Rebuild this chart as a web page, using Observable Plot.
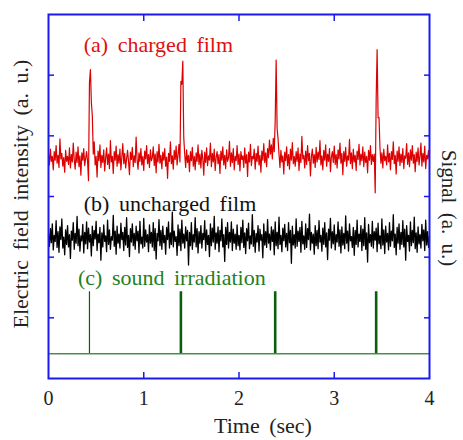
<!DOCTYPE html>
<html><head><meta charset="utf-8">
<script src="https://cdn.jsdelivr.net/npm/d3@7"></script>
<script src="https://cdn.jsdelivr.net/npm/@observablehq/plot@0.6"></script>
<style>
body{margin:0;background:#fff}
svg{display:block}
svg text{font-family:"Liberation Serif","Tinos","Times New Roman","DejaVu Serif",serif !important}
.lbl text, text.ttl{word-spacing:4px}
</style>
</head><body><div id="chart"></div>
<script>
// x ticks and y ticks (y ticks have no labels)
const xTicks = [0, 1, 2, 3, 4];
const xInnerTicks = [1, 2, 3];
const yTicks = [1, 2, 3, 4, 5];

// sampling step of the recorded traces (sec)
const step = 0.01;

// (a) charged film, 401 samples from 0 to 4 s
const charged = [
3.70,3.52,3.78,3.58,3.66,3.44,3.74,3.60,3.84,3.55,
3.68,3.48,3.95,3.62,3.71,3.50,3.64,3.40,3.76,3.58,
3.66,3.53,3.80,3.47,3.69,3.57,3.88,3.61,3.45,3.73,
3.56,3.82,3.49,3.67,3.35,3.72,3.60,3.79,3.51,3.63,
3.74,3.58,3.26,4.88,5.09,4.55,4.33,3.70,3.90,3.52,
3.66,3.32,3.75,3.59,3.85,3.48,3.68,3.56,3.77,3.42,
3.64,3.80,3.53,3.70,3.46,3.92,3.57,3.66,3.38,3.74,
3.60,3.83,3.50,3.69,3.55,3.78,3.44,3.65,3.87,3.54,
3.71,3.47,3.62,3.76,3.58,3.36,3.73,3.61,3.81,3.49,
3.67,3.56,3.98,3.60,3.45,3.72,3.58,3.79,3.52,3.66,
3.43,3.75,3.62,3.84,3.54,3.69,3.48,3.77,3.59,3.64,
3.82,3.51,3.70,3.39,3.74,3.57,3.86,3.55,3.68,3.46,
3.73,3.60,3.79,3.50,3.65,3.30,3.71,3.58,3.90,3.54,
3.67,3.45,3.76,3.61,3.83,3.52,3.69,3.86,3.57,4.90,
4.85,5.23,3.97,3.70,3.48,3.77,3.56,3.68,3.41,3.74,
3.59,3.81,3.50,3.66,3.44,3.72,3.58,3.85,3.53,3.70,
3.47,3.76,3.62,3.35,3.73,3.56,3.80,3.51,3.67,3.60,
3.88,3.49,3.71,3.57,3.78,3.43,3.65,3.74,3.54,3.69,
3.38,3.75,3.60,3.82,3.52,3.68,3.46,3.77,3.58,3.64,
3.91,3.50,3.72,3.56,3.79,3.44,3.66,3.59,3.84,3.53,
3.70,3.42,3.74,3.61,3.67,3.48,3.80,3.55,3.69,3.33,
3.73,3.57,3.86,3.51,3.66,3.62,3.78,3.45,3.71,3.58,
3.83,3.52,3.68,3.40,3.75,3.60,3.87,3.56,3.72,3.49,
3.79,3.64,3.93,3.70,3.85,3.62,3.96,3.74,4.25,5.25,
4.12,3.95,3.70,3.48,3.76,3.57,3.67,3.37,3.73,3.59,
3.82,3.51,3.69,3.45,3.78,3.60,3.89,3.54,3.66,3.50,
3.74,3.58,3.80,3.43,3.70,3.56,3.99,3.62,3.68,3.47,
3.75,3.53,3.84,3.59,3.71,3.34,3.66,3.78,3.55,3.69,
3.48,3.81,3.57,3.73,3.61,3.92,3.52,3.67,3.44,3.76,
3.60,3.85,3.50,3.70,3.58,3.79,3.41,3.65,3.74,3.56,
3.83,3.53,3.69,3.47,3.77,3.62,3.88,3.55,3.71,3.36,
3.74,3.58,3.81,3.50,3.67,3.60,3.94,3.54,3.72,3.46,
3.78,3.57,3.68,3.43,3.75,3.61,3.86,3.52,3.70,3.59,
3.82,3.49,3.73,3.56,3.66,3.39,3.76,3.60,3.84,3.53,
3.69,3.58,3.70,3.06,4.60,5.42,4.30,4.30,3.80,3.55,
3.72,3.47,3.78,3.59,3.66,3.52,3.85,3.57,3.71,3.44,
3.74,3.61,3.90,3.54,3.68,3.37,3.75,3.58,3.82,3.51,
3.70,3.56,3.79,3.46,3.67,3.63,3.87,3.53,3.72,3.49,
3.77,3.60,3.84,3.55,3.69,3.41,3.73,3.58,3.80,3.52,
3.66,3.88,3.50,3.71,3.57,3.83,3.46,3.68,3.62,3.76,
3.58];

// (b) uncharged film, 401 samples from 0 to 4 s
const uncharged = [
2.38,2.18,2.47,2.24,2.55,2.12,2.36,2.26,2.60,2.16,
2.42,2.08,2.50,2.29,2.63,2.15,2.33,2.04,2.45,2.21,
2.52,2.17,2.37,1.98,2.43,2.28,2.57,2.13,2.39,2.23,
2.67,2.19,2.46,2.10,2.35,2.27,2.54,2.07,2.41,2.22,
2.58,2.14,2.48,2.25,2.37,2.02,2.51,2.19,2.44,2.30,
2.59,2.11,2.38,2.24,2.49,1.95,2.40,2.17,2.53,2.26,
2.35,2.09,2.61,2.21,2.45,2.13,2.34,2.28,2.69,2.18,
2.43,2.05,2.51,2.23,2.38,2.15,2.56,2.29,2.41,2.11,
2.49,2.20,2.65,2.16,2.36,2.01,2.47,2.25,2.55,2.19,
2.39,2.13,2.51,2.27,2.43,2.07,2.59,2.22,2.33,2.15,
2.64,2.18,2.45,2.25,2.37,2.09,2.53,2.23,2.41,2.17,
2.57,2.11,2.47,1.97,2.39,2.27,2.62,2.19,2.44,2.13,
2.51,2.24,2.36,2.05,2.49,2.29,2.58,2.15,2.40,2.21,
2.74,2.17,2.43,2.26,2.34,2.03,2.53,2.19,2.46,2.11,
2.61,2.23,2.38,2.15,2.50,2.27,2.44,1.87,2.41,2.19,
2.57,2.13,2.37,2.25,2.65,2.17,2.47,2.07,2.42,2.23,
2.52,2.15,2.39,2.29,2.60,2.11,2.45,2.21,2.36,2.01,
2.55,2.19,2.48,2.25,2.67,2.13,2.40,2.23,2.50,2.09,
2.44,2.27,2.63,2.17,2.37,1.93,2.49,2.21,2.57,2.15,
2.41,2.25,2.58,2.11,2.46,2.23,2.38,2.13,2.53,2.19,
2.36,2.12,2.49,2.24,2.61,2.16,2.40,2.06,2.47,2.27,
2.56,2.14,2.35,2.22,2.70,2.18,2.44,2.08,2.39,2.25,
2.52,2.10,2.46,2.28,2.37,1.99,2.55,2.20,2.42,2.16,
2.62,2.23,2.38,2.12,2.50,2.26,2.45,2.04,2.58,2.19,
2.41,2.14,2.66,2.21,2.36,2.09,2.48,2.27,2.54,2.17,
2.39,2.11,2.57,2.24,2.44,1.90,2.51,2.20,2.37,2.15,
2.63,2.18,2.43,2.26,2.49,2.08,2.59,2.22,2.35,2.13,
2.55,2.16,2.47,2.29,2.71,2.12,2.41,2.23,2.38,2.05,
2.52,2.19,2.44,2.14,2.60,2.25,2.36,2.10,2.48,2.21,
2.57,2.17,2.40,1.96,2.46,2.28,2.64,2.15,2.42,2.22,
2.53,2.12,2.37,2.25,2.58,2.18,2.45,2.07,2.50,2.20,
2.39,2.14,2.68,2.23,2.43,2.10,2.55,2.27,2.34,2.16,
2.49,2.03,2.44,2.21,2.61,2.17,2.38,2.26,2.52,2.11,
2.46,2.19,2.65,2.13,2.40,1.92,2.54,2.24,2.37,2.18,
2.59,2.15,2.42,2.28,2.48,2.09,2.56,2.22,2.35,2.14,
2.63,2.20,2.45,2.06,2.51,2.25,2.39,2.12,2.57,2.18,
2.43,2.27,2.70,2.16,2.38,2.04,2.49,2.23,2.55,2.13,
2.41,2.21,2.60,2.17,2.46,1.95,2.52,2.26,2.36,2.10,
2.58,2.19,2.44,2.24,2.66,2.14,2.40,2.08,2.50,2.22,
2.37,2.15,2.54,2.27,2.45,2.11,2.61,2.20,2.42,2.16,
2.35];

// (c) sound irradiation: pulse times, baseline level and pulse top
const soundTimes = [0.43, 1.39, 2.38, 3.44];
const soundBase = 0.41;
const soundPeak = 1.43;

// curve labels
const labelTexts = ["(a) charged film", "(b) uncharged film", "(c) sound irradiation"];
const labelX = [0.37, 0.37, 0.31];
const labelY = [5.49, 2.88, 1.66];

const BLUE = "#1a1aee";
const RED = "#dd0000";
const GREEN_TXT = "#1f801f";
const GREEN = "#0b5e0b";
const GREEN_BASE = "#4a8f4a";
const labelColors = ["#e01010", "#111111", GREEN_TXT];

const redData = charged.map((v, i) => ({t: i * step, v}));
const blackData = uncharged.map((v, i) => ({t: i * step, v}));
const labels = labelTexts.map((s, i) => ({s, x: labelX[i], y: labelY[i], c: labelColors[i]}));

const FONT = '"Liberation Serif", "Tinos", "Times New Roman", "DejaVu Serif", serif';

const chart = Plot.plot({
  width: 463, height: 440,
  marginLeft: 48, marginRight: 34, marginTop: 14, marginBottom: 62,
  style: {fontFamily: FONT, background: "#fff", color: "#222"},
  x: {domain: [0, 4]},
  y: {domain: [0, 6]},
  marks: [
    Plot.ruleY([soundBase], {stroke: GREEN_BASE, strokeWidth: 1.5}),
    Plot.ruleX(soundTimes, {x: d => d, y1: soundBase, y2: soundPeak, stroke: GREEN, strokeWidth: (d, i) => i === 0 ? 1.2 : 2.6}),
    Plot.line(blackData, {x: "t", y: "v", stroke: "#000", strokeWidth: 1.3}),
    Plot.line(redData, {x: "t", y: "v", stroke: RED, strokeWidth: 1.2}),
    Plot.text(labels, {x: "x", y: "y", text: "s", fill: "c", textAnchor: "start", fontSize: 22, className: "lbl"}),
    Plot.frame({stroke: BLUE, strokeWidth: 2}),
    Plot.axisX({anchor: "bottom", ticks: xInnerTicks, tickSize: -6, tickFormat: () => "", stroke: BLUE, strokeWidth: 1.5}),
    Plot.axisX({anchor: "top", ticks: xInnerTicks, tickSize: -6, tickFormat: () => "", stroke: BLUE, strokeWidth: 1.5}),
    Plot.axisY({anchor: "left", ticks: yTicks, tickSize: -6, tickFormat: () => "", stroke: BLUE, strokeWidth: 1.5}),
    Plot.axisY({anchor: "right", ticks: yTicks, tickSize: -6, tickFormat: () => "", stroke: BLUE, strokeWidth: 1.5}),
    Plot.axisX({anchor: "bottom", ticks: xTicks, tickSize: 0, tickPadding: 12, tickFormat: d => String(d), fontSize: 20, fill: "#222"})
  ]
});

const svg = d3.select(chart);
svg.append("text").attr("class", "ttl")
  .attr("transform", "translate(263,433)")
  .attr("text-anchor", "middle").attr("font-size", 22).attr("fill", "#222")
  .text("Time (sec)");
svg.append("text").attr("class", "ttl")
  .attr("transform", "translate(28,194) rotate(-90)")
  .attr("text-anchor", "middle").attr("font-size", 22).attr("fill", "#222")
  .text("Electric field intensity (a. u.)");
svg.append("text").attr("class", "ttl")
  .attr("transform", "translate(442,208) rotate(90)")
  .attr("text-anchor", "middle").attr("font-size", 21).attr("fill", "#222")
  .text("Signal (a. u.)");

document.getElementById("chart").appendChild(chart);
</script>
</body></html>
